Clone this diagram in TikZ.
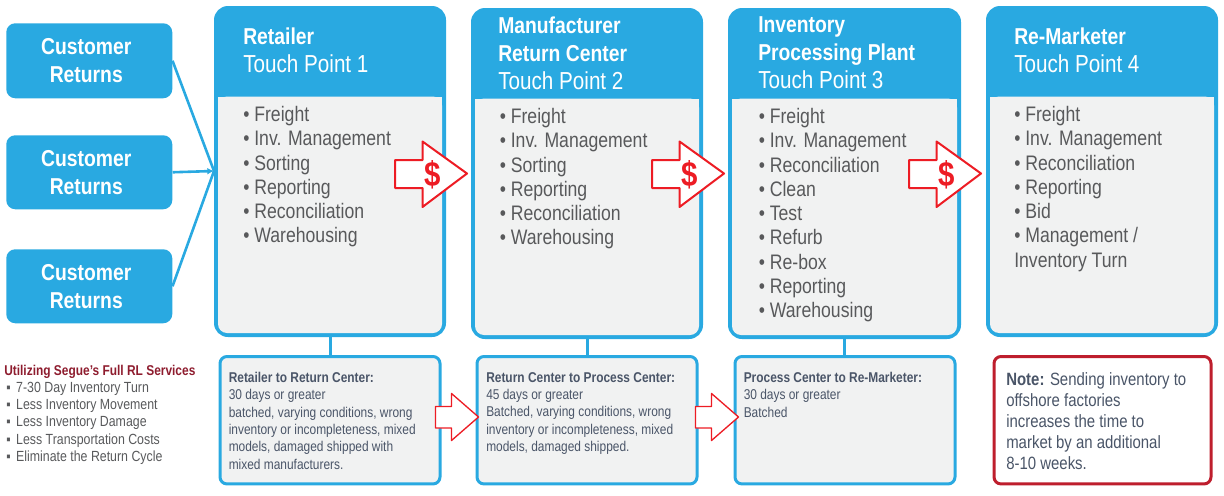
\documentclass[tikz,border=0pt]{standalone}
\usepackage{fontspec}
\setmainfont{Liberation Sans}[FakeStretch=0.84]
\usetikzlibrary{arrows.meta}
\definecolor{sky}{HTML}{29A9E1}
\definecolor{pale}{HTML}{F1F2F2}
\definecolor{ink}{HTML}{58595B}
\definecolor{slate}{HTML}{4A5568}
\definecolor{hot}{HTML}{ED1C24}
\definecolor{wine}{HTML}{8E1C2E}
\definecolor{notered}{HTML}{BE1E2D}
\newcommand{\fs}[2]{\fontsize{\fpeval{#1*0.75}pt}{\fpeval{#2*0.75}pt}\selectfont}
\newcommand{\tpline}[1]{{\fs{24.6}{28}#1}}
\newcommand{\custtext}{Customer\hspace*{4.5pt}\\Returns\hspace*{4.5pt}}
\newcommand{\sq}{▪\hspace{4.2pt}}
\tikzset{
  x=0.75pt,y=-0.75pt,
  cust/.style={fill=sky,rounded corners=6.75pt,align=center,text=white,font=\fs{23}{28}\bfseries,inner sep=0pt,minimum width=124.5pt,minimum height=55.5pt},
  link/.style={draw=sky,line width=1.95pt},
  headtxt/.style={anchor=north west,align=left,text=white,inner sep=0pt,font=\fs{23}{28}\bfseries},
  listtxt/.style={anchor=north west,align=left,text=ink,inner sep=0pt,font=\fs{21}{24.3}},
  subtxt/.style={anchor=north west,align=left,text=slate,inner sep=0pt,font=\fs{14.2}{17.3}},
  subpanel/.style={draw=sky,fill=pale,line width=2.25pt,rounded corners=5.25pt,anchor=north west,inner sep=0pt,minimum width=165pt,minimum height=95.6pt},
  redarrow/.style={draw=hot,line width=1.5pt,fill=white,line join=round},
  dollar/.style={text=hot,font=\fs{35}{35}\bfseries,inner sep=0pt},
}
\newcommand{\tp}[6]{% name, x, y, w, h, header bottom
  \fill[sky,rounded corners=10.5pt] (#2,#3) rectangle ++(#4,#5);
  \fill[pale,rounded corners=6.75pt] (#2+4,#6) rectangle (#2+#4-4,#3+#5-4);
  \fill[pale] (#2+4,#6) rectangle (#2+#4-4,#6+14);
  \coordinate (#1w) at (#2,#3+#5/2-0.5);
  \coordinate (#1s) at (#2+#4/2,#3+#5);
}
\newcommand{\dollararrow}[3]{% name, tailx, y centre
  \draw[redarrow] (#2,#3-13.5) -- (#2+27.5,#3-13.5) -- (#2+27.5,#3-32) -- (#2+72,#3) -- (#2+27.5,#3+33.5) -- (#2+27.5,#3+14.5) -- (#2,#3+14.5) -- cycle;
  \node[dollar] (#1) at (#2+37.5,#3+1) {\$};
}
\newcommand{\thinarrow}[2]{%
  \draw[redarrow,line width=1pt] (#1,#2-10.5) -- (#1+16,#2-10.5) -- (#1+16,#2-23.5) -- (#1+43,#2) -- (#1+16,#2+23.5) -- (#1+16,#2+11) -- (#1,#2+11) -- cycle;
}
\begin{document}
\begin{tikzpicture}
\useasboundingbox (0,0) rectangle (1224,496);
% touch-point panels
\tp{a}{214}{6}{232}{331}{96.5}
\tp{b}{471}{8}{232}{331}{98.5}
\tp{c}{728}{8}{233}{331}{98.5}
\tp{d}{986}{6}{232}{331}{96.5}
% customer boxes
\node[cust,anchor=north west,minimum height=56.25pt] (c1) at (6,23) {\custtext};
\node[cust,anchor=north west] (c2) at (6,135) {\custtext};
\node[cust,anchor=north west] (c3) at (6,249) {\custtext};
\draw[link] (c1.east) -- (aw);
\draw[link,-{Latex[length=5pt,width=5pt]}] (c2.east) -- (aw);
\draw[link] (c3.east) -- (aw);
% panel headers
\node[headtxt] (ta) at (243,27.5) {Retailer\\\tpline{\mdseries Touch Point 1}};
\node[headtxt] (tb) at (498,16.5) {Manufacturer\\Return Center\\\tpline{\mdseries Touch Point 2}};
\node[headtxt] (tc) at (758,16.5) {Inventory\\Processing Plant\\\tpline{\mdseries Touch Point 3}};
\node[headtxt] (td) at (1014,27.5) {Re-Marketer\\\tpline{\mdseries Touch Point 4}};
% lists
\node[listtxt] (la) at (243,106) {• Freight\\• Inv. Management\\• Sorting\\• Reporting\\• Reconciliation\\• Warehousing};
\node[listtxt] (lb) at (499.5,108) {• Freight\\• Inv. Management\\• Sorting\\• Reporting\\• Reconciliation\\• Warehousing};
\node[listtxt] (lc) at (758.5,108) {• Freight\\• Inv. Management\\• Reconciliation\\• Clean\\• Test\\• Refurb\\• Re-box\\• Reporting\\• Warehousing};
\node[listtxt] (ld) at (1014,106) {• Freight\\• Inv. Management\\• Reconciliation\\• Reporting\\• Bid\\• Management /\\Inventory Turn};
% lower boxes
\node[subpanel] (sa) at (218.5,355) {};
\node[subpanel] (sb) at (475.5,355) {};
\node[subpanel] (sc) at (733.5,355) {};
\node[subpanel,draw=notered,fill=white,minimum width=162.75pt] (note) at (992.5,355) {};
\draw[link,line width=2.25pt] (as) -- (as |- sa.north);
\draw[link,line width=2.25pt] (bs) -- (bs |- sb.north);
\draw[link,line width=2.25pt] (cs) -- (cs |- sc.north);
% lower text
\node[subtxt] (xa) at (228.5,372) {\textbf{Retailer to Return Center:}\\30 days or greater\\batched, varying conditions, wrong\\inventory or incompleteness, mixed\\models, damaged shipped with\\mixed manufacturers.};
\node[subtxt] (xb) at (486,372) {\textbf{Return Center to Process Center:}\\45 days or greater\\Batched, varying conditions, wrong\\inventory or incompleteness, mixed\\models, damaged shipped.};
\node[subtxt] (xc) at (743.5,372) {\textbf{Process Center to Re-Marketer:}\\30 days or greater\\Batched};
\node[subtxt,font=\fs{17.8}{21}] (xn) at (1006,372) {\textbf{Note:} Sending inventory to\\offshore factories\\increases the time to\\market by an additional\\8-10 weeks.};
% services
\node[anchor=north west,inner sep=0pt,text=wine,font=\fs{14.2}{17}\bfseries] (h) at (4,365) {Utilizing Segue’s Full RL Services};
\node[anchor=north west,inner sep=0pt,align=left,text=ink,font=\fs{14.7}{17.3}] (svc) at (6,381.7) {\sq 7-30 Day Inventory Turn\\\sq Less Inventory Movement\\\sq Less Inventory Damage\\\sq Less Transportation Costs\\\sq Eliminate the Return Cycle};
% red arrows
\dollararrow{d1}{395}{173.5}
\dollararrow{d2}{652}{173.5}
\dollararrow{d3}{909}{173.5}
\thinarrow{435.5}{417}
\thinarrow{695.5}{417}
\end{tikzpicture}
\end{document}
